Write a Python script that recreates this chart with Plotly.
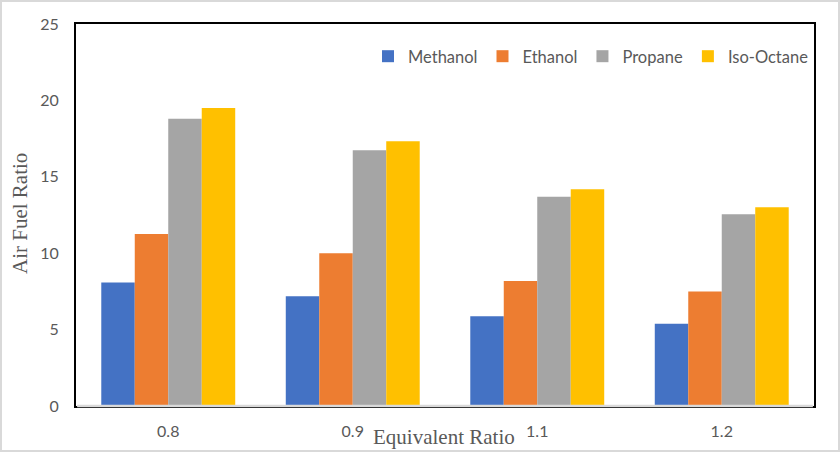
import plotly.graph_objects as go

categories = ["0.8", "0.9", "1.1", "1.2"]
methanol = [8.09, 7.19, 5.88, 5.39]
ethanol = [11.25, 10.0, 8.18, 7.5]
propane = [18.8, 16.73, 13.69, 12.55]
iso_octane = [19.5, 17.33, 14.18, 13.0]
y_ticks = [0, 5, 10, 15, 20, 25]

series = [
    ("Methanol", methanol, "#4472C4"),
    ("Ethanol", ethanol, "#ED7D31"),
    ("Propane", propane, "#A5A5A5"),
    ("Iso-Octane", iso_octane, "#FFC000"),
]

W, H = 840, 452
L, R, T, B = 76, 26, 24, 46
pw, ph = W - L - R, H - T - B

fig = go.Figure()
for name, vals, col in series:
    fig.add_trace(go.Bar(x=categories, y=vals, name=name, marker_color=col,
                         marker_line_width=0))

gray = "#595959"
fig.update_layout(
    width=W, height=H,
    margin=dict(l=L, r=R, t=T, b=B),
    paper_bgcolor="white", plot_bgcolor="white",
    barmode="group", bargap=0.274, bargroupgap=0,
    font=dict(family="Lato, Carlito, sans-serif", color=gray, size=15),
    legend=dict(orientation="h", x=1.0, xanchor="right", y=0.915, yanchor="middle",
                font=dict(size=16.5, color=gray), bgcolor="rgba(0,0,0,0)",
                itemwidth=30, tracegroupgap=0),
    xaxis=dict(type="category", showline=True, linecolor="black", linewidth=2,
               mirror=True, ticks="", showgrid=False, tickfont=dict(size=16, color=gray),
               ticklabelstandoff=10),
    yaxis=dict(range=[0, 25], tickvals=y_ticks, showgrid=False, zeroline=False,
               showline=True, linecolor="black", linewidth=2, mirror=True,
               ticks="", tickfont=dict(size=16, color=gray), ticklabelstandoff=12),
    showlegend=True,
)

# light gray baseline over the bottom frame edge
fig.add_shape(type="line", xref="paper", yref="paper", x0=0.0015, x1=0.9985, y0=0, y1=0,
              line=dict(color="#D9D9D9", width=2.5), layer="above")
# outer chart border
fig.add_shape(type="rect", xref="paper", yref="paper",
              x0=(-L + 1) / pw, x1=1 + (R - 1) / pw,
              y0=(-B + 1) / ph, y1=1 + (T - 1) / ph,
              line=dict(color="#D9D9D9", width=2), layer="below")

serif = "Liberation Serif, Times New Roman, serif"
# axis titles
fig.add_annotation(text="Equivalent Ratio", xref="paper", yref="paper",
                   x=(444 - L) / pw, y=-(437 - T - ph) / ph, showarrow=False,
                   xanchor="center", yanchor="middle",
                   font=dict(family=serif, size=21, color=gray))
fig.add_annotation(text="Air Fuel Ratio", xref="paper", yref="paper",
                   x=(20 - L) / pw, y=1 - (214 - T) / ph, showarrow=False, textangle=-90,
                   xanchor="center", yanchor="middle",
                   font=dict(family=serif, size=21, color=gray))

fig.write_html("out.html", config={"displayModeBar": False},
               post_script="document.body.style.margin='0';document.body.style.overflow='hidden';")
